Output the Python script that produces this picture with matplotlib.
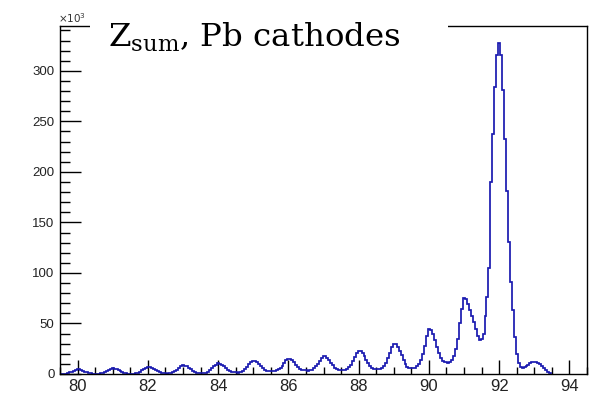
import numpy as np
import matplotlib
matplotlib.use("Agg")
import matplotlib.pyplot as plt
from matplotlib.ticker import MultipleLocator
from matplotlib.patches import Rectangle

# Summed charge Z, Pb cathodes: counts per bin in thousands.
# One row per integer Z, 18 bins each, bins centred on Z-0.5 ... Z+0.444
bin_width = 1.0 / 18.0
first_bin_center = 79.5

z80 = [0, 0, 0, 0.4, 0.9, 1.5, 2.3, 3.2, 4.0, 4.6, 4.5, 4.0, 3.2, 2.4, 1.6, 0.9, 0.5, 0.3]
z81 = [0.3, 0.2, 0.3, 0.6, 1.1, 1.8, 2.8, 3.9, 4.9, 5.6, 5.4, 4.8, 3.9, 2.9, 1.9, 1.1, 0.6, 0.4]
z82 = [0.3, 0.3, 0.4, 0.8, 1.4, 2.3, 3.6, 5.0, 6.3, 7.2, 7.0, 6.2, 5.0, 3.7, 2.5, 1.5, 0.9, 0.5]
z83 = [0.5, 0.4, 0.6, 1.0, 1.8, 2.9, 4.4, 6.0, 7.6, 8.6, 8.4, 7.5, 6.1, 4.6, 3.2, 2.0, 1.3, 0.9]
z84 = [0.8, 0.7, 0.9, 1.4, 2.4, 3.8, 5.6, 7.6, 9.4, 10.6, 10.3, 9.2, 7.6, 5.8, 4.1, 2.8, 2.0, 1.7]
z85 = [1.6, 1.4, 1.6, 2.2, 3.3, 5.0, 7.2, 9.6, 11.8, 13.2, 12.9, 11.7, 9.8, 7.8, 5.8, 4.2, 3.3, 3.0]
z86 = [3.0, 2.8, 3.0, 3.6, 4.6, 6.2, 8.3, 11.0, 13.5, 15.2, 14.8, 13.5, 11.5, 9.2, 7.0, 5.2, 4.0, 3.7]
z87 = [3.5, 3.3, 3.5, 4.2, 5.5, 7.5, 10.0, 13.0, 16.0, 18.0, 17.6, 16.0, 13.5, 11.0, 8.5, 6.0, 4.5, 3.8]
z88 = [4.0, 3.8, 4.0, 5.0, 6.5, 9.0, 12.5, 16.5, 20.5, 23.0, 22.5, 20.5, 17.5, 14.0, 10.5, 7.5, 5.5, 4.5]
z89 = [5.0, 4.7, 5.0, 6.0, 8.0, 11.0, 15.5, 21.0, 26.5, 30.0, 29.5, 27.0, 23.0, 18.5, 14.0, 10.0, 7.0, 6.0]
z90 = [5.6, 5.5, 6.0, 7.5, 10.0, 14.0, 20.0, 28.0, 38.0, 45.0, 44.0, 40.0, 34.0, 27.0, 21.0, 16.0, 13.0, 11.5]
z91 = [11.5, 11.2, 12.0, 14.0, 18.0, 25.0, 35.0, 50.0, 64.0, 75.5, 74.0, 69.0, 63.0, 57.0, 51.0, 44.5, 38.0, 34.0]
z92 = [35.0, 40.0, 57.0, 76.5, 105.0, 190.0, 238.0, 284.0, 316.0, 328.0, 316.0, 281.0, 233.0, 181.0, 131.0, 91.0, 63.0, 37.0]
z93 = [20.0, 10.6, 7.0, 6.2, 6.5, 7.5, 9.0, 10.5, 11.5, 12.0, 11.8, 11.0, 9.5, 7.5, 5.5, 3.5, 2.0, 0.8]

counts = np.concatenate([z80, z81, z82, z83, z84, z85, z86, z87,
                         z88, z89, z90, z91, z92, z93])
edges = first_bin_center - bin_width / 2 + bin_width * np.arange(len(counts) + 1)

x_ticks = [80, 82, 84, 86, 88, 90, 92, 94]
y_ticks = [0, 50, 100, 150, 200, 250, 300]

W, H = 590, 393
fig = plt.figure(figsize=(W / 100, H / 100), dpi=100)
ax = fig.add_axes([60 / W, 1 - 374 / H, 527 / W, 348 / H])

ax.stairs(counts, edges, baseline=0, color="#1a1ab0", linewidth=1.25, zorder=2)

ax.set_xlim(79.5, 94.5)
ax.set_ylim(0, max(counts) * 1.05)

ax.set_xticks(x_ticks)
ax.set_xticklabels([str(v) for v in x_ticks])
ax.xaxis.set_minor_locator(MultipleLocator(0.5))
ax.set_yticks(y_ticks)
ax.set_yticklabels([str(v) for v in y_ticks])
ax.yaxis.set_minor_locator(MultipleLocator(10))

ax.tick_params(axis="both", which="both", direction="in", top=False, right=False,
               colors="black", width=1.0)
ax.tick_params(axis="x", which="major", length=10, labelsize=12, pad=3.5)
ax.tick_params(axis="x", which="minor", length=5)
ax.tick_params(axis="y", which="major", length=15, labelsize=9.5, pad=4)
ax.tick_params(axis="y", which="minor", length=7.5)
for lab in ax.get_xticklabels() + ax.get_yticklabels():
    lab.set_fontfamily("Liberation Sans")
    lab.set_color("#222222")
for sp in ax.spines.values():
    sp.set_linewidth(1.0)
    sp.set_color("black")

# exponent label for the y axis
fig.text(58 / W, 1 - 23 / H, r"$\times10^{3}$", fontsize=7.5, color="#333333",
         math_fontfamily="dejavusans", ha="left", va="baseline")

# title pave drawn over the upper frame
fig.patches.append(Rectangle((90 / W, 1 - 58 / H), (448 - 90) / W, 58 / H,
                             transform=fig.transFigure, facecolor="white",
                             edgecolor="none", zorder=3))
fig.text(108 / W, 1 - 47 / H, r"$\mathrm{Z}_{\mathrm{sum}}$, Pb cathodes",
         fontsize=23.3, family="DejaVu Serif", math_fontfamily="dejavuserif",
         ha="left", va="baseline", color="black", zorder=4)

fig.savefig("out.png", dpi=100)
